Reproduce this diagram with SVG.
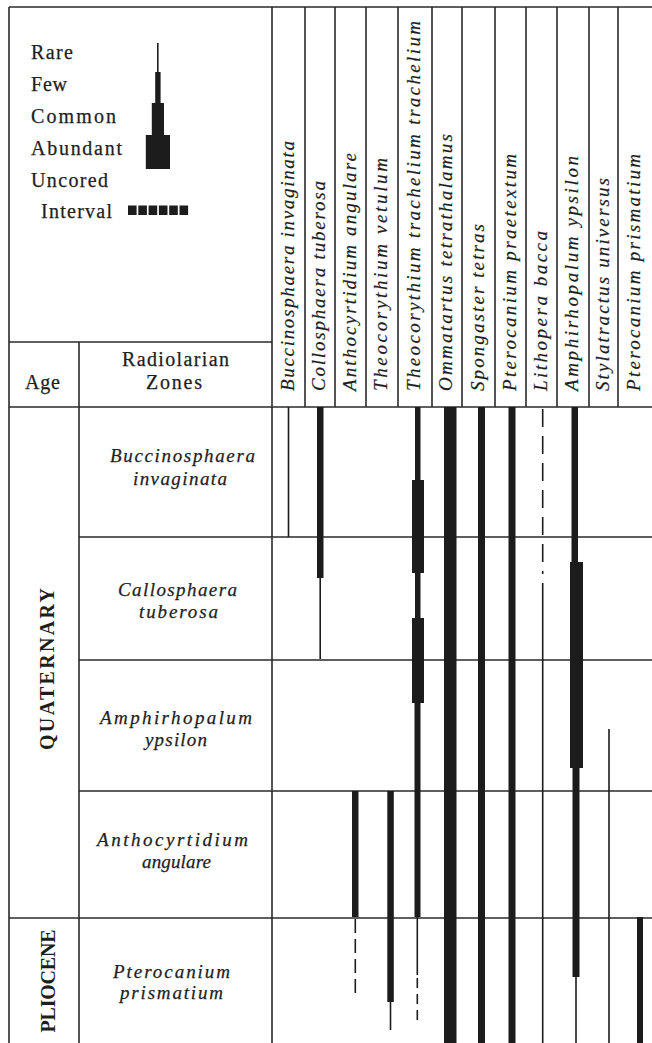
<svg xmlns="http://www.w3.org/2000/svg" width="652" height="1043" viewBox="0 0 652 1043">
<style>
.g{stroke:#2a2a2a;stroke-width:1.6;fill:none}
.t{font-family:"Liberation Serif","Times New Roman",serif;font-size:20px;fill:#1e1e1e;stroke:#1e1e1e;stroke-width:0.25}
.i{font-style:italic;font-size:19px}
.b{font-weight:bold;stroke-width:0}
.h{font-family:"Liberation Serif","Times New Roman",serif;font-size:19px;font-style:italic;fill:#1e1e1e;stroke:#1e1e1e;stroke-width:0.2}
.bar{fill:#1c1c1c}
.thin{stroke:#1c1c1c;stroke-width:1.6;fill:none}
.d1{stroke-dasharray:18 9}
.d2{stroke-dasharray:14 6}
.d3{stroke-dasharray:10 6}
</style>
<rect width="652" height="1043" fill="#fff"/>
<g id="grid" class="g">
<line x1="9" y1="7" x2="652" y2="7"/>
<line x1="9" y1="7" x2="9" y2="1043"/>
<line x1="272" y1="7" x2="272" y2="1043"/>
<line x1="9" y1="342" x2="272" y2="342"/>
<line x1="79" y1="342" x2="79" y2="1043"/>
<line x1="9" y1="407" x2="652" y2="407"/>
<line x1="305" y1="7" x2="305" y2="407"/>
<line x1="335" y1="7" x2="335" y2="407"/>
<line x1="366" y1="7" x2="366" y2="407"/>
<line x1="398" y1="7" x2="398" y2="407"/>
<line x1="432" y1="7" x2="432" y2="407"/>
<line x1="462" y1="7" x2="462" y2="407"/>
<line x1="495" y1="7" x2="495" y2="407"/>
<line x1="526" y1="7" x2="526" y2="407"/>
<line x1="557" y1="7" x2="557" y2="407"/>
<line x1="589" y1="7" x2="589" y2="407"/>
<line x1="618" y1="7" x2="618" y2="407"/>
<line x1="79" y1="537" x2="652" y2="537"/>
<line x1="79" y1="660" x2="652" y2="660"/>
<line x1="79" y1="791" x2="652" y2="791"/>
<line x1="9" y1="918" x2="652" y2="918"/>
</g>
<g id="legend">
<text class="t" x="31" y="59" textLength="42">Rare</text>
<text class="t" x="31" y="91" textLength="36">Few</text>
<text class="t" x="31" y="123" textLength="85">Common</text>
<text class="t" x="31" y="155" textLength="91">Abundant</text>
<text class="t" x="31" y="187" textLength="77">Uncored</text>
<text class="t" x="41" y="218" textLength="71">Interval</text>
<line class="thin" x1="157.8" y1="43" x2="157.8" y2="72"/>
<rect class="bar" x="155.2" y="72" width="5.4" height="31"/>
<rect class="bar" x="151.8" y="103" width="12.2" height="32"/>
<rect class="bar" x="145.8" y="135" width="24.2" height="34"/>
<g class="bar">
<rect x="128" y="205.5" width="8.6" height="9.5"/>
<rect x="138.3" y="205.5" width="8.6" height="9.5"/>
<rect x="148.6" y="205.5" width="8.6" height="9.5"/>
<rect x="158.9" y="205.5" width="8.6" height="9.5"/>
<rect x="169.2" y="205.5" width="8.6" height="9.5"/>
<rect x="179.5" y="205.5" width="8.6" height="9.5"/>
</g>
</g>
<g id="header-left">
<text class="t" x="25" y="389" textLength="35">Age</text>
<text class="t" x="122" y="366" textLength="107">Radiolarian</text>
<text class="t" x="146" y="389" textLength="56">Zones</text>
</g>
<g id="species-headers">
<text class="h" transform="translate(294,391) rotate(-90)" textLength="250">Buccinosphaera invaginata</text>
<text class="h" transform="translate(325,391) rotate(-90)" textLength="210">Collosphaera tuberosa</text>
<text class="h" transform="translate(355.5,391) rotate(-90)" textLength="238">Anthocyrtidium angulare</text>
<text class="h" transform="translate(387,391) rotate(-90)" textLength="233">Theocorythium vetulum</text>
<text class="h" transform="translate(420,391) rotate(-90)" textLength="370">Theocorythium trachelium trachelium</text>
<text class="h" transform="translate(452,391) rotate(-90)" textLength="257">Ommatartus tetrathalamus</text>
<text class="h" transform="translate(483.5,391) rotate(-90)" textLength="167">Spongaster tetras</text>
<text class="h" transform="translate(515.5,391) rotate(-90)" textLength="237">Pterocanium praetextum</text>
<text class="h" transform="translate(546.5,391) rotate(-90)" textLength="160">Lithopera bacca</text>
<text class="h" transform="translate(578,391) rotate(-90)" textLength="235">Amphirhopalum ypsilon</text>
<text class="h" transform="translate(608.5,391) rotate(-90)" textLength="213">Stylatractus universus</text>
<text class="h" transform="translate(640,391) rotate(-90)" textLength="237">Pterocanium prismatium</text>
</g>
<g id="ages">
<text class="t b" transform="translate(54,669) rotate(-90)" text-anchor="middle" textLength="162">QUATERNARY</text>
<text class="t b" transform="translate(55,981) rotate(-90)" text-anchor="middle" textLength="103">PLIOCENE</text>
</g>
<g id="zones">
<text class="t i" x="110" y="462" textLength="145">Buccinosphaera</text>
<text class="t i" x="133" y="485" textLength="94">invaginata</text>
<text class="t i" x="118" y="596" textLength="119">Callosphaera</text>
<text class="t i" x="139" y="618" textLength="79">tuberosa</text>
<text class="t i" x="100" y="724" textLength="152">Amphirhopalum</text>
<text class="t i" x="145" y="746" textLength="62">ypsilon</text>
<text class="t i" x="97" y="846" textLength="151">Anthocyrtidium</text>
<text class="t i" x="142" y="868" textLength="69">angulare</text>
<text class="t i" x="113" y="978" textLength="117">Pterocanium</text>
<text class="t i" x="120" y="999" textLength="103">prismatium</text>
</g>
<g id="ranges">
<line class="thin" x1="288.5" y1="407" x2="288.5" y2="537"/>
<rect class="bar" x="317" y="407" width="6.5" height="171"/>
<line class="thin" x1="320.2" y1="578" x2="320.2" y2="659"/>
<rect class="bar" x="352" y="791" width="6.5" height="126"/>
<line class="thin d2" x1="355.3" y1="919" x2="355.3" y2="993"/>
<rect class="bar" x="387.3" y="791" width="6.5" height="211"/>
<line class="thin" x1="390.5" y1="1002" x2="390.5" y2="1030"/>
<rect class="bar" x="415" y="407" width="5.5" height="73"/>
<rect class="bar" x="412" y="480" width="12" height="93"/>
<rect class="bar" x="415" y="573" width="5.5" height="45"/>
<rect class="bar" x="412" y="618" width="12" height="85"/>
<rect class="bar" x="414.5" y="703" width="6" height="214"/>
<line class="thin" x1="417.3" y1="917" x2="417.3" y2="975"/>
<line class="thin d3" x1="417.3" y1="978" x2="417.3" y2="1024"/>
<rect class="bar" x="444" y="407" width="12.5" height="636"/>
<rect class="bar" x="478" y="407" width="7" height="636"/>
<rect class="bar" x="508.5" y="407" width="7" height="636"/>
<line class="thin d1" x1="542.7" y1="409" x2="542.7" y2="574"/>
<line class="thin" x1="542.7" y1="583" x2="542.7" y2="1043"/>
<rect class="bar" x="571.5" y="407" width="6.5" height="155"/>
<rect class="bar" x="570" y="562" width="13" height="206"/>
<rect class="bar" x="572.5" y="768" width="7" height="209"/>
<line class="thin" x1="576" y1="977" x2="576" y2="1043"/>
<line class="thin" x1="609" y1="729" x2="609" y2="1043"/>
<rect class="bar" x="637" y="917" width="6" height="126"/>
</g>
</svg>
